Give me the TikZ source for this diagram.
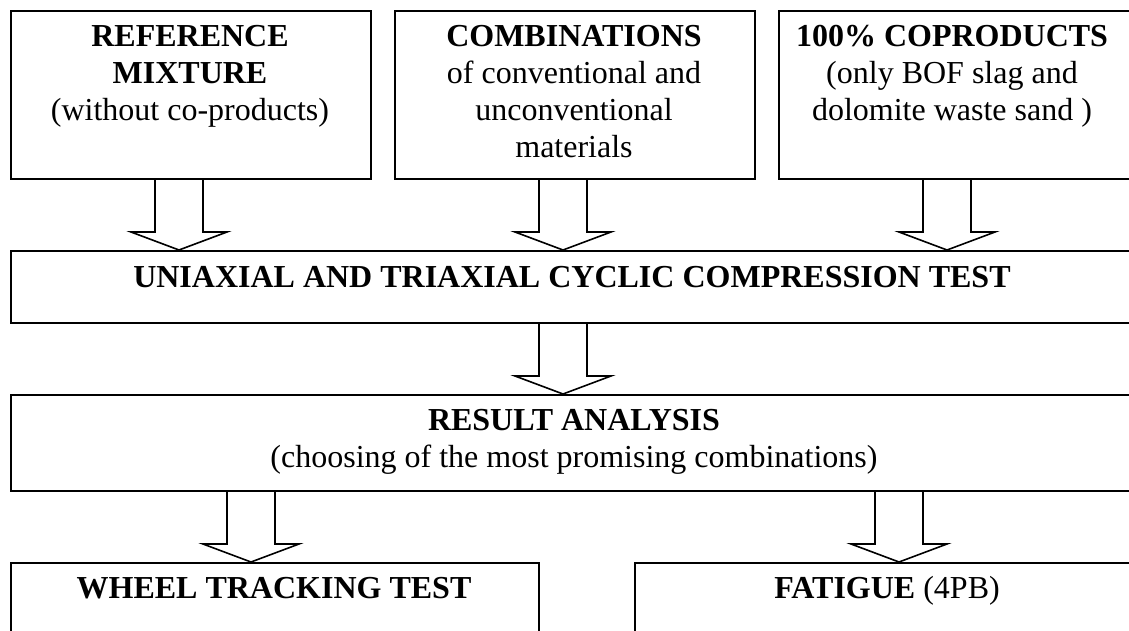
\documentclass[tikz,border=0pt]{standalone}
\usepackage{fontspec}
\setmainfont{Liberation Serif}
\usetikzlibrary{calc}
\tikzset{
  box/.style={draw, line width=2pt, rectangle, inner sep=0pt, anchor=north west},
  txt/.style={align=center, anchor=base, inner sep=0pt, font=\fontsize{32}{37}\selectfont},
  barrow/.style={draw, fill=white, line width=1.6pt, line join=miter},
}
% #1 point giving the arrow's x, #2 start anchor (y), #3 end anchor (y)
\newcommand\blockarrow[3]{%
  \draw[barrow] let \p1=(#1), \p2=(#2), \p3=(#3) in
    (\x1-24pt,\y2) -- (\x1-24pt,\y3+18pt) -- (\x1-48pt,\y3+18pt) -- (\x1,\y3)
    -- (\x1+48pt,\y3+18pt) -- (\x1+24pt,\y3+18pt) -- (\x1+24pt,\y2);}
\begin{document}
\begin{tikzpicture}[x=1pt,y=-1pt]
\useasboundingbox (0,0) rectangle (1129,630);
\clip (0,0) rectangle (1129,630);
\fill[white] (0,0) rectangle (1129,630);
% boxes
\node[box, minimum width=360, minimum height=168] (b1) at (10,10) {};
\node[box, minimum width=360, minimum height=168] (b2) at (394,10) {};
\node[box, minimum width=360, minimum height=168] (b3) at (778,10) {};
\node[box, minimum width=1128, minimum height=72] (u) at (10,250) {};
\node[box, minimum width=1128, minimum height=96] (r) at (10,394) {};
\node[box, minimum width=528, minimum height=120] (w) at (10,562) {};
\node[box, minimum width=506, minimum height=120] (f) at (634,562) {};
% texts (anchor = baseline of the last line)
\node[txt] (t1) at (190,120) {\textbf{REFERENCE}\\\textbf{MIXTURE}\\(without co-products)};
\node[txt] (t2) at (574,157) {\textbf{COMBINATIONS}\\of conventional and\\unconventional\\materials};
\node[txt] (t3) at (952,120) {\textbf{100\% COPRODUCTS}\\(only BOF slag and\\dolomite waste sand )};
\node[txt] (tu) at (572,287) {\textbf{UNIAXIAL AND TRIAXIAL CYCLIC COMPRESSION TEST}};
\node[txt] (tr) at (574,467) {\textbf{RESULT ANALYSIS}\\(choosing of the most promising combinations)};
\node[txt] (tw) at (274,598) {\textbf{WHEEL TRACKING TEST}};
\node[txt] (tf) at (887,598) {\textbf{FATIGUE} (4PB)};
% arrows
\blockarrow{$(b1.south)+(-12,0)$}{b1.south}{u.north}
\blockarrow{$(b2.south)+(-12,0)$}{b2.south}{u.north}
\blockarrow{$(b3.south)+(-12,0)$}{b3.south}{u.north}
\blockarrow{$(u.south)+(-12,0)$}{u.south}{r.north}
\blockarrow{$(w.north)+(-24,0)$}{r.south}{w.north}
\blockarrow{$(f.north)+(11,0)$}{r.south}{f.north}
\end{tikzpicture}
\end{document}
